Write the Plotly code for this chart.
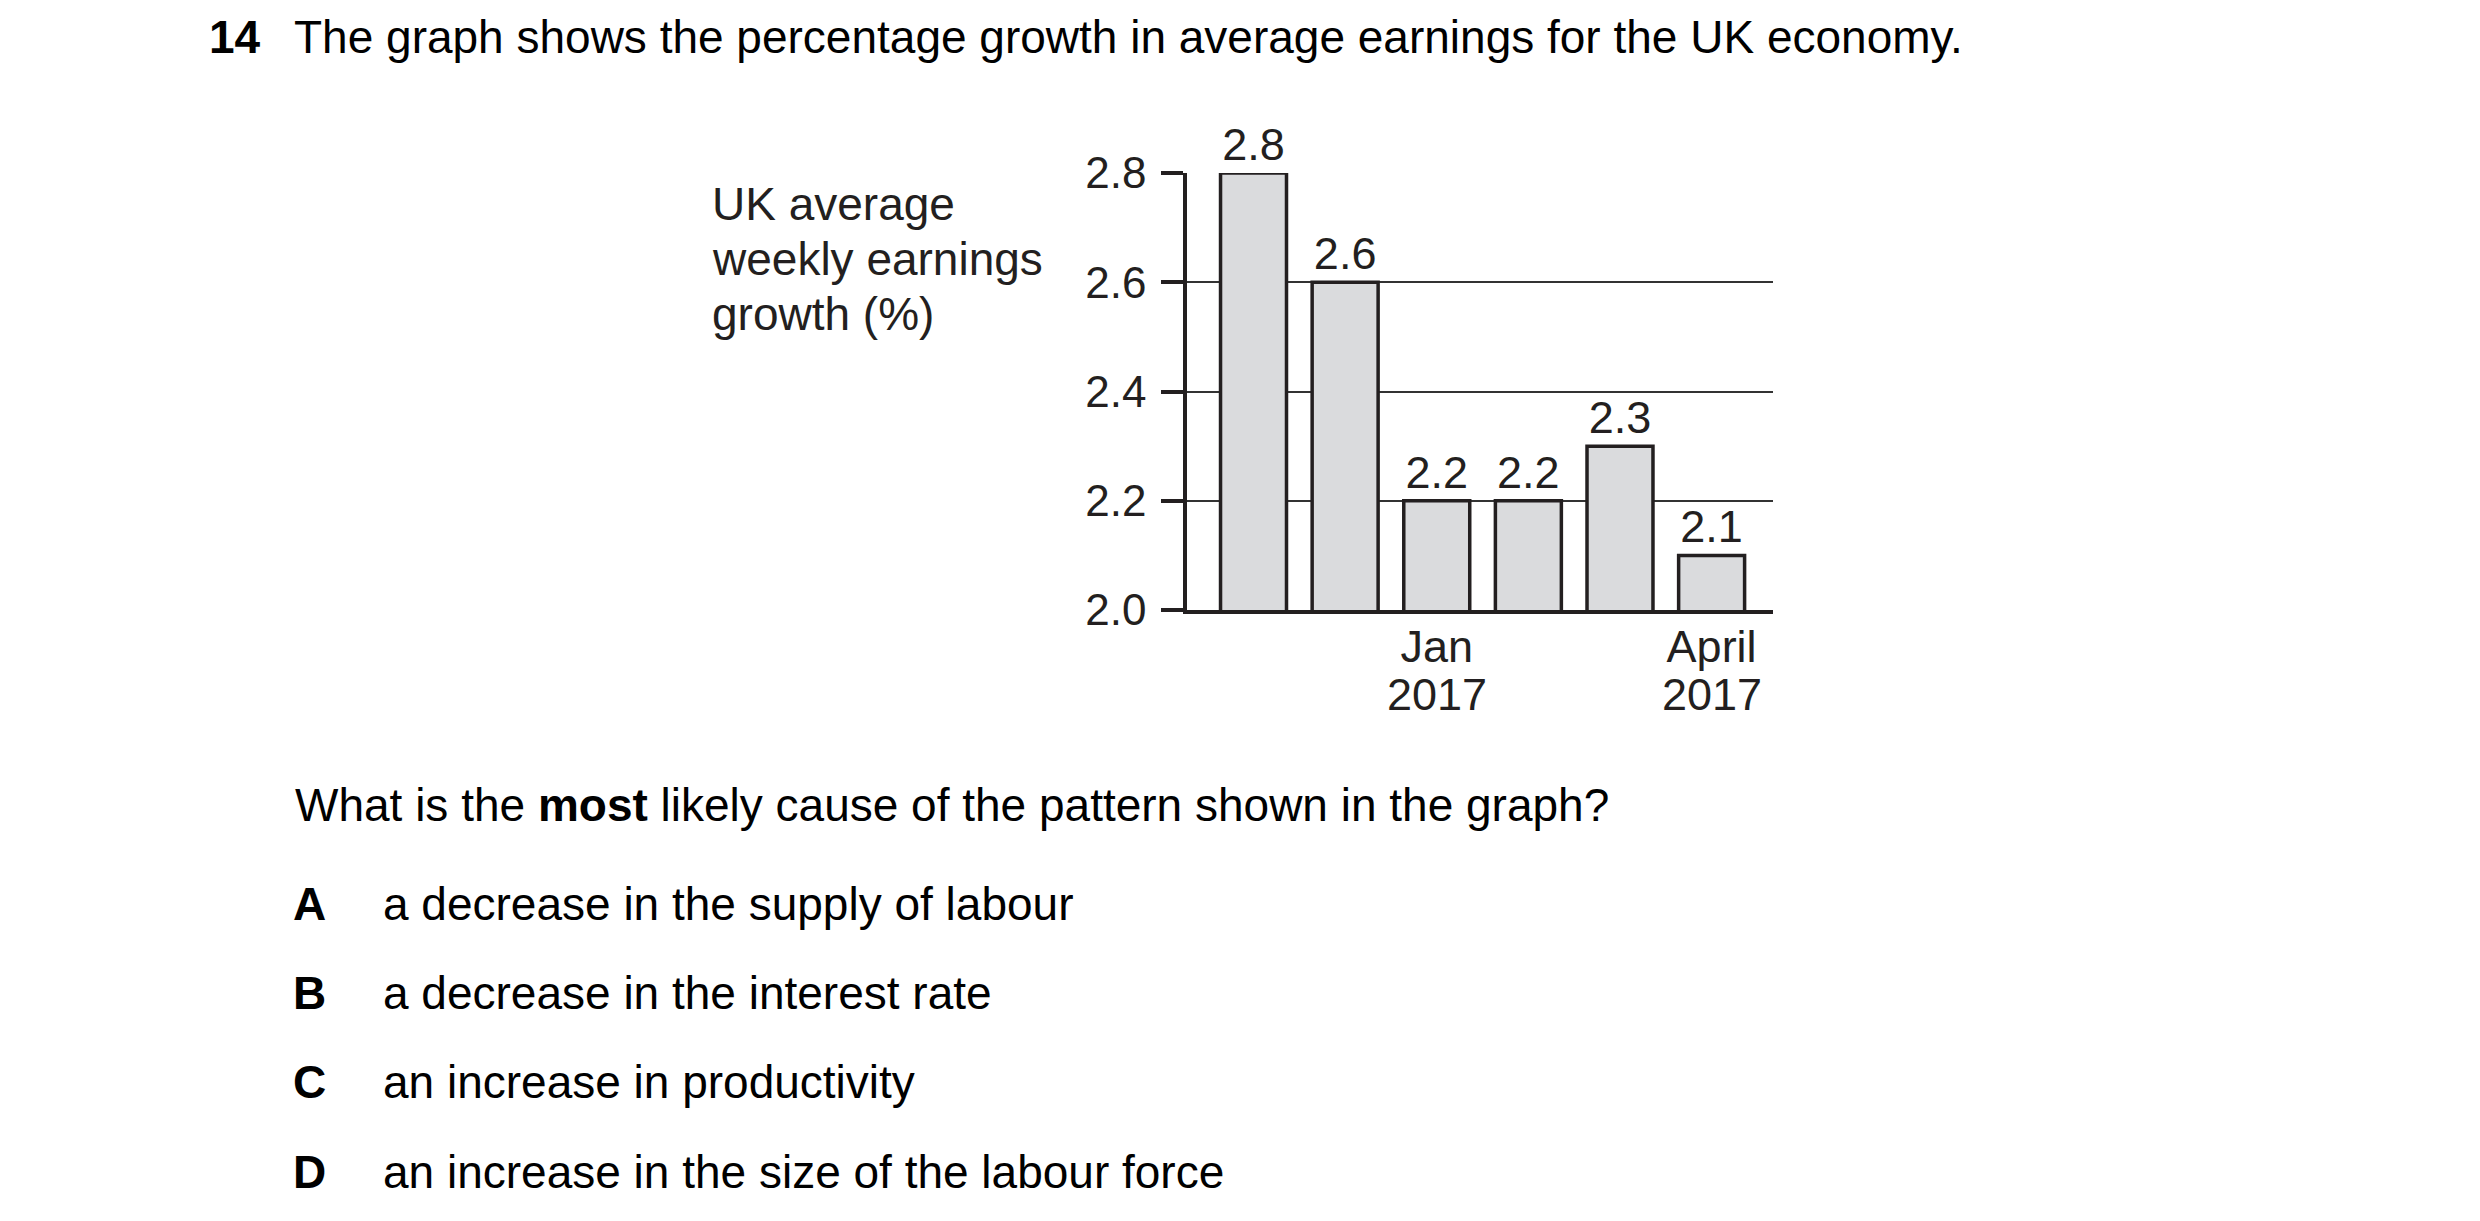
import plotly.graph_objects as go

# ---- data ----
months = ["Nov 2016", "Dec 2016", "Jan 2017", "Feb 2017", "Mar 2017", "Apr 2017"]
growth = [2.8, 2.6, 2.2, 2.2, 2.3, 2.1]
bar_labels = ["2.8", "2.6", "2.2", "2.2", "2.3", "2.1"]
x_tick_months = ["Jan 2017", "Apr 2017"]
x_tick_month_text = ["Jan", "April"]
x_tick_year_text = ["2017", "2017"]
y_ticks = [2.0, 2.2, 2.4, 2.6, 2.8]
y_label_lines = ["UK average", "weekly earnings", "growth (%)"]
question_number = "14"
question_title = "The graph shows the percentage growth in average earnings for the UK economy."
question_prompt = "What is the <b>most</b> likely cause of the pattern shown in the graph?"
option_letters = ["A", "B", "C", "D"]
option_texts = [
    "a decrease in the supply of labour",
    "a decrease in the interest rate",
    "an increase in productivity",
    "an increase in the size of the labour force",
]

# ---- geometry (pixels) ----
W, H = 2480, 1221
PL, PR, PT, PB = 1179, 1765, 165, 602   # plot area edges
FONT = "Liberation Sans, Arial, sans-serif"
INK = "#231f20"
BODY = 46

def px_x(px):
    return (px - PL) / (PR - PL)

def px_y(py):
    return (PB - py) / (PB - PT)

fig = go.Figure()
fig.add_trace(go.Bar(
    x=list(range(len(months))),
    y=growth,
    width=0.72,
    marker=dict(color="#dadbdd", line=dict(color=INK, width=3.5)),
    text=bar_labels,
    textposition="outside",
    textfont=dict(family=FONT, size=45, color=INK),
    constraintext="none",
    cliponaxis=False,
    hoverinfo="skip",
))

annotations = []
def text_at(txt, px, baseline, size=BODY, color="#000000"):
    annotations.append(dict(
        text=txt, xref="paper", yref="paper",
        x=px_x(px), y=px_y(baseline - 0.34 * size),
        xanchor="left", yanchor="middle", showarrow=False,
        font=dict(family=FONT, size=size, color=color),
    ))

text_at("<b>" + question_number + "</b>", 199, 45)
text_at(question_title, 284, 45)
for line, base in zip(y_label_lines, [212, 267, 322]):
    text_at(line, 702, base, color=INK)
text_at(question_prompt, 285, 813)
for letter, txt, base in zip(option_letters, option_texts, [912, 1001, 1090, 1180]):
    text_at("<b>" + letter + "</b>", 283, base)
    text_at(txt, 373, base)

# second line of the x tick labels (year), placed at the tick's category
for m, yr in zip(x_tick_months, x_tick_year_text):
    annotations.append(dict(
        text=yr, xref="x", yref="paper",
        x=months.index(m), y=px_y(702 - 0.34 * 45),
        xanchor="center", yanchor="middle", showarrow=False,
        font=dict(family=FONT, size=45, color=INK),
    ))

fig.update_layout(
    width=W, height=H,
    margin=dict(l=PL, r=W - PR, t=PT, b=H - PB, pad=0),
    paper_bgcolor="white", plot_bgcolor="white",
    showlegend=False,
    annotations=annotations,
    xaxis=dict(
        range=[-0.726, 5.67],
        tickvals=[months.index(m) for m in x_tick_months],
        ticktext=x_tick_month_text,
        showgrid=False, zeroline=False,
        showline=True, linecolor=INK, linewidth=3.5,
        ticks="", ticklabelstandoff=-6,
        tickfont=dict(family=FONT, size=45, color=INK),
        fixedrange=True,
    ),
    yaxis=dict(
        range=[2.0, 2.8],
        tickvals=y_ticks,
        ticktext=[f"{v:.1f}" for v in y_ticks],
        showgrid=True, gridcolor="#333333", gridwidth=1.5,
        zeroline=False,
        showline=True, linecolor=INK, linewidth=3.5,
        ticks="outside", ticklen=22, tickwidth=3.5, tickcolor=INK,
        ticklabelstandoff=6,
        tickfont=dict(family=FONT, size=44, color=INK),
        fixedrange=True,
    ),
)

fig.write_html("out.html")
